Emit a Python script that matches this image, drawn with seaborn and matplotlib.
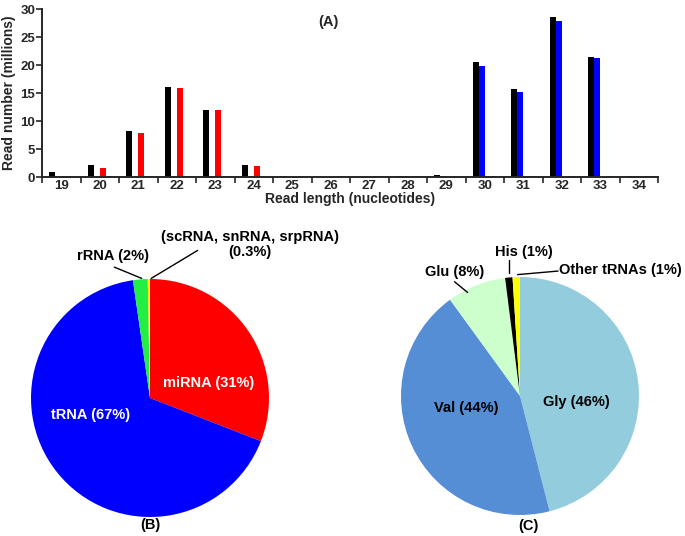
import numpy as np
import pandas as pd
import matplotlib
matplotlib.use("Agg")
import matplotlib.pyplot as plt
import seaborn as sns

# (A) read length distribution, millions of reads
lengths = [str(n) for n in range(19, 35)]
total_reads = [0.82, 2.07, 8.25, 16.15, 12.05, 2.14, 0.15, 0.05, 0.05, 0.25, 0.3, 20.5, 15.8, 28.6, 21.5, 0.25]
trna_reads = [0.0, 0.0, 0.0, 0.0, 0.0, 0.0, 0.02, 0.02, 0.03, 0.2, 0.25, 19.9, 15.2, 27.9, 21.3, 0.2]
mirna_reads = [0.2, 1.6, 7.9, 15.9, 11.9, 2.0, 0.1, 0.02, 0.0, 0.0, 0.0, 0.0, 0.0, 0.0, 0.0, 0.0]
other_reads = [0.1, 0.1, 0.1, 0.1, 0.1, 0.1, 0.1, 0.1, 0.1, 0.1, 0.1, 0.1, 0.1, 0.1, 0.1, 0.1]
series_names = ["total", "tRNA", "miRNA", "other"]
series_colors = ["#000000", "#0000FF", "#FF0000", "#444444"]

# (B) small RNA classes
b_labels = ["miRNA (31%)", "tRNA (67%)", "rRNA (2%)", "(scRNA, snRNA, srpRNA)\n(0.3%)"]
b_values = [31, 67, 2, 0.3]
b_colors = ["#FF0000", "#0000FF", "#22EE44", "#FFFF00"]

# (C) tRNA fragments
c_labels = ["Gly (46%)", "Val (44%)", "Glu (8%)", "His (1%)", "Other tRNAs (1%)"]
c_values = [46, 44, 8, 1, 1]
c_colors = ["#93CDDD", "#558ED5", "#CCFFCC", "#000000", "#FFFF00"]

sns.set_style("ticks")
plt.rcParams["font.family"] = ["Liberation Sans", "DejaVu Sans"]
plt.rcParams["font.weight"] = "bold"

W, H = 685, 536
fig = plt.figure(figsize=(W / 100, H / 100), dpi=100)

# ---- bar chart ----
df = pd.DataFrame({
    "length": lengths * 4,
    "reads": total_reads + trna_reads + mirna_reads + other_reads,
    "series": sum([[s] * len(lengths) for s in series_names], []),
})
ax = fig.add_axes([42 / W, 1 - 177 / H, (658 - 42) / W, (177 - 9) / H])
sns.barplot(data=df, x="length", y="reads", hue="series", order=lengths,
            hue_order=series_names, palette=series_colors, width=0.62,
            saturation=1, legend=False, ax=ax, linewidth=0)
ax.set_xlim(-0.5, len(lengths) - 0.5)
ax.set_ylim(0, 30)
ax.set_yticks(range(0, 31, 5))
ax.set_xticks(np.arange(-0.5, len(lengths), 1), minor=True)
ax.tick_params(axis="x", which="major", length=0, labelsize=9.5, pad=2)
ax.tick_params(axis="x", which="minor", length=4, width=1.2, direction="out")
ax.tick_params(axis="y", length=4, width=1.2, labelsize=9.5, pad=1)
for lab in ax.get_xticklabels() + ax.get_yticklabels():
    lab.set_fontweight("bold")
sns.despine(ax=ax)
for sp in ("left", "bottom"):
    ax.spines[sp].set_linewidth(1.4)
ax.set_xlabel("Read length (nucleotides)", fontsize=10, fontweight="bold", labelpad=0)
ax.set_ylabel("Read number (millions)", fontsize=10, fontweight="bold", labelpad=3)
ax.text(0.465, 0.92, "(A)", transform=ax.transAxes, ha="center", va="center",
        fontsize=10.5, fontweight="bold")


def pie_axes(cx, cy, r):
    a = fig.add_axes([(cx - r) / W, 1 - (cy + r) / H, 2 * r / W, 2 * r / H])
    return a


# ---- pie B ----
axb = pie_axes(150, 398, 119)
axb.pie(b_values, colors=b_colors, startangle=90, counterclock=False,
        wedgeprops=dict(linewidth=0))
axb.set_xlim(-1, 1)
axb.set_ylim(-1, 1)
tb = dict(fontsize=10.5, fontweight="bold", ha="center", va="center")
axb.text(0.49, 0.13, b_labels[0], color="white", **tb)
axb.text(-0.50, -0.14, b_labels[1], color="white", **tb)
axb.text(-0.31, 1.19, b_labels[2], color="black", **tb)
axb.text(0.84, 1.29, b_labels[3], color="black", linespacing=1.05, **tb)
axb.plot([-0.30, -0.07], [1.10, 1.005], color="black", lw=1, clip_on=False)
axb.plot([0.01, 0.40], [1.005, 1.24], color="black", lw=1, clip_on=False)
axb.text(0, -1.07, "(B)", color="black", **tb)

# ---- pie C ----
axc = pie_axes(520, 396, 119)
axc.pie(c_values, colors=c_colors, startangle=90, counterclock=False,
        wedgeprops=dict(linewidth=0))
axc.set_xlim(-1, 1)
axc.set_ylim(-1, 1)
axc.text(0.47, -0.05, c_labels[0], color="black", **tb)
axc.text(-0.45, -0.10, c_labels[1], color="black", **tb)
axc.text(-0.55, 1.04, c_labels[2], color="black", **tb)
axc.text(0.03, 1.21, c_labels[3], color="black", **tb)
axc.text(0.84, 1.06, c_labels[4], color="black", **tb)
axc.plot([-0.55, -0.44], [0.96, 0.87], color="black", lw=1, clip_on=False)
axc.plot([-0.09, -0.09], [1.14, 1.03], color="black", lw=1, clip_on=False)
axc.plot([-0.02, 0.32], [1.02, 1.05], color="black", lw=1, clip_on=False)
axc.text(0.07, -1.09, "(C)", color="black", **tb)

fig.savefig("out.png", dpi=100, facecolor="white")
